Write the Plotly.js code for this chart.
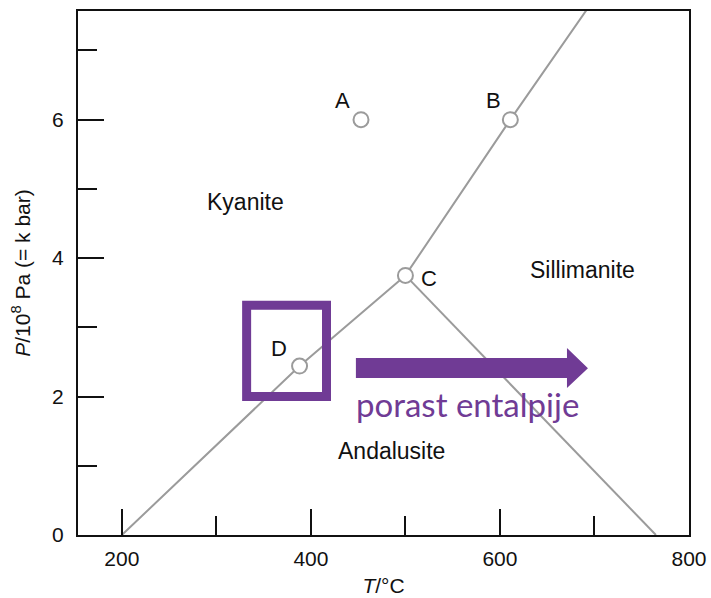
<!DOCTYPE html>
<html>
<head>
<meta charset="utf-8">
<script src="https://cdn.plot.ly/plotly-3.0.1.min.js"></script>
<style>html,body{margin:0;padding:0;background:#fff;}#chart{width:711px;height:598px;}</style>
</head>
<body>
<div id="chart"></div>
<script>
// Phase boundaries (T in °C, P in 10^8 Pa)
const kyAndT = [200, 388, 500];
const kyAndP = [0, 2.44, 3.75];
const kySilT = [500, 611, 700];
const kySilP = [3.75, 6.0, 7.75];
const andSilT = [500, 765];
const andSilP = [3.75, 0];
// Marked points
const pointNames = ["A", "B", "C", "D"];
const pointT = [453, 611, 500, 388];
const pointP = [6.0, 6.0, 3.75, 2.44];
// Labels
const labelText = ["A", "B", "C", "D", "Kyanite", "Sillimanite", "Andalusite"];
const labelT = [433, 593, 525, 366, 331, 687, 485];
const labelP = [6.27, 6.27, 3.70, 2.70, 4.81, 3.83, 1.21];
const labelSize = [22, 22, 22, 22, 23, 23, 23];
const xTicks = [200, 400, 600, 800];
const yTicks = [0, 2, 4, 6];

const gray = "#9b9b9b";
const purple = "#703b95";
const lineStyle = {color: gray, width: 2};

const traces = [
  {x: kyAndT, y: kyAndP, mode: "lines", line: lineStyle, hoverinfo: "skip"},
  {x: kySilT, y: kySilP, mode: "lines", line: lineStyle, hoverinfo: "skip"},
  {x: andSilT, y: andSilP, mode: "lines", line: lineStyle, hoverinfo: "skip"},
  {x: pointT, y: pointP, mode: "markers",
   marker: {size: 15, color: "white", line: {color: gray, width: 2}}, cliponaxis: false}
];

const annotations = labelText.map((t, i) => ({
  x: labelT[i], y: labelP[i], xref: "x", yref: "y", text: t, showarrow: false,
  font: {family: "Liberation Sans, Arial, sans-serif", size: labelSize[i], color: "#111"}
}));
annotations.push({
  x: 566, y: 1.89, xref: "x", yref: "y", text: "porast entalpije", showarrow: false,
  font: {family: "Lato, Open Sans, sans-serif", size: 33, color: purple}
});

const shapes = [
  {type: "rect", xref: "x", yref: "y", x0: 332, x1: 416.5, y0: 2.0, y1: 3.32,
   line: {color: purple, width: 9}, fillcolor: "rgba(0,0,0,0)"},
  {type: "path", xref: "x", yref: "y",
   path: "M 447.6 2.267 L 670.9 2.267 L 670.9 2.123 L 693.1 2.41 L 670.9 2.70 L 670.9 2.556 L 447.6 2.556 Z",
   fillcolor: purple, line: {width: 0}}
];

const tickFont = {family: "Liberation Sans, Arial, sans-serif", size: 21, color: "#111"};

const layout = {
  width: 711, height: 598,
  margin: {l: 78, r: 22, t: 11, b: 63},
  paper_bgcolor: "white", plot_bgcolor: "white",
  showlegend: false,
  xaxis: {
    range: [153.6, 800], tickvals: xTicks, ticks: "inside", ticklen: 26, tickwidth: 2, tickcolor: "#111",
    minor: {dtick: 100, tick0: 0, ticks: "inside", ticklen: 19, tickwidth: 2, tickcolor: "#111"},
    showline: true, linewidth: 2, linecolor: "#111", mirror: true,
    showgrid: false, zeroline: false, tickfont: tickFont, ticklabelstandoff: 4,
    title: {text: "<i>T</i>/°C", font: tickFont, standoff: 9}
  },
  yaxis: {
    range: [0, 7.57], tickvals: yTicks, ticks: "inside", ticklen: 26, tickwidth: 2, tickcolor: "#111",
    minor: {dtick: 1, tick0: 0, ticks: "inside", ticklen: 19, tickwidth: 2, tickcolor: "#111"},
    showline: true, linewidth: 2, linecolor: "#111", mirror: true,
    showgrid: false, zeroline: false, tickfont: tickFont, ticklabelstandoff: 8,
    title: {text: "<i>P</i>/10<sup>8</sup> Pa (= k bar)", font: tickFont, standoff: 16}
  },
  annotations: annotations,
  shapes: shapes
};

Plotly.newPlot("chart", traces, layout, {displayModeBar: false, staticPlot: true});
</script>
</body>
</html>
